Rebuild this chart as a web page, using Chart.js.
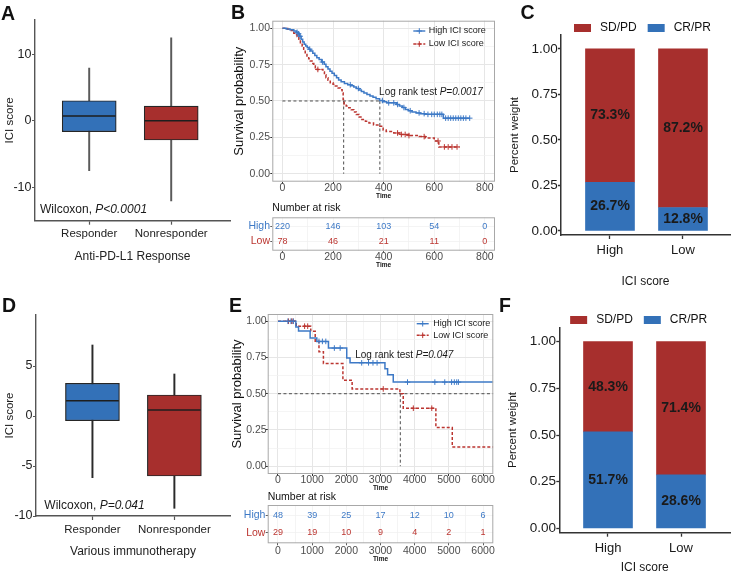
<!DOCTYPE html>
<html>
<head>
<meta charset="utf-8">
<title>ICI score and immunotherapy response</title>
<script src="https://cdn.jsdelivr.net/npm/chart.js@4.4.1/dist/chart.umd.min.js"></script>
<style>
  html, body { margin: 0; padding: 0; background: #fff; }
  #fig { position: relative; width: 733px; height: 574px; overflow: hidden; background: #fff; }
  #fig canvas { position: absolute; }
  .tag { position: absolute; font: bold 19.5px/1 'Liberation Sans', Arial, sans-serif; color: #111; }
</style>
</head>
<body>
<div id="fig">
  <canvas id="boxA" width="240" height="290" style="left:0;top:0"></canvas>
  <canvas id="survB" width="270" height="205" style="left:230px;top:0"></canvas>
  <canvas id="riskB" width="270" height="90" style="left:230px;top:195px"></canvas>
  <canvas id="barC" width="233" height="290" style="left:500px;top:0"></canvas>
  <canvas id="boxD" width="240" height="284" style="left:0;top:290px"></canvas>
  <canvas id="survE" width="270" height="205" style="left:230px;top:290px"></canvas>
  <canvas id="riskE" width="270" height="84" style="left:230px;top:490px"></canvas>
  <canvas id="barF" width="233" height="284" style="left:500px;top:290px"></canvas>
  <div class="tag" style="left:1px;top:3.5px">A</div>
  <div class="tag" style="left:231px;top:2.5px">B</div>
  <div class="tag" style="left:520.5px;top:2.5px">C</div>
  <div class="tag" style="left:2px;top:296px">D</div>
  <div class="tag" style="left:229px;top:296px">E</div>
  <div class="tag" style="left:499px;top:296px">F</div>
</div>
<script>
// ---------- data ----------
// A / D: ICI score by response (boxplot stats)
const respGroups = ['Responder', 'Nonresponder'];
const aLow = [-7.5, -12.05];
const aQ1 = [-1.65, -2.9];
const aMed = [0.7, 0.0];
const aQ3 = [3.0, 2.2];
const aHigh = [7.9, 12.45];
const aTicks = [-10, 0, 10];

const dLow = [-6.17, -9.23];
const dQ1 = [-0.47, -6.0];
const dMed = [1.53, 0.6];
const dQ3 = [3.27, 2.1];
const dHigh = [7.1, 4.2];
const dTicks = [-10, -5, 0, 5];

// B: Kaplan-Meier, anti-PD-L1 cohort
const bHighTime = [0, 15, 30, 45, 55, 62, 68, 74, 80, 86, 92, 98, 105, 112, 120, 128, 136, 145, 155, 165,
  172, 180, 188, 196, 205, 214, 222, 232, 245, 258, 270, 282, 292, 302, 312, 322, 334, 346, 358, 370,
  384, 396, 412, 450, 462, 474, 486, 498, 512, 528, 545, 562, 636, 740];
const bHighSurv = [1, 0.995, 0.99, 0.982, 0.972, 0.962, 0.945, 0.925, 0.905, 0.89, 0.878, 0.867, 0.856, 0.844, 0.828, 0.812, 0.798, 0.785, 0.768, 0.752,
  0.735, 0.72, 0.705, 0.69, 0.675, 0.66, 0.645, 0.632, 0.62, 0.612, 0.605, 0.596, 0.586, 0.575, 0.565, 0.555, 0.545, 0.535, 0.525, 0.515,
  0.503, 0.494, 0.487, 0.476, 0.465, 0.455, 0.442, 0.433, 0.425, 0.418, 0.413, 0.408, 0.382, 0.382];
const bLowTime = [0, 20, 35, 45, 52, 58, 65, 71, 78, 84, 90, 97, 104, 110, 117, 124, 130, 137, 160, 166,
  172, 180, 189, 200, 209, 220, 229, 236, 240, 244, 252, 262, 272, 282, 292, 303, 314, 328, 342, 360,
  385, 398, 410, 440, 470, 500, 540, 565, 600, 618, 700];
const bLowSurv = [1, 0.993, 0.985, 0.966, 0.955, 0.944, 0.925, 0.901, 0.878, 0.855, 0.832, 0.809, 0.79, 0.775, 0.757, 0.74, 0.728, 0.717, 0.7, 0.68,
  0.66, 0.642, 0.625, 0.615, 0.603, 0.59, 0.578, 0.555, 0.51, 0.476, 0.465, 0.453, 0.44, 0.425, 0.407, 0.39, 0.372, 0.36, 0.349, 0.335,
  0.326, 0.3, 0.29, 0.28, 0.27, 0.262, 0.255, 0.245, 0.225, 0.184, 0.184];
const bHighCens = [58, 64, 70, 108, 158, 268, 300, 395, 420, 440, 455, 480, 505, 540, 560, 575, 590, 600, 612, 622,
  630, 645, 655, 665, 675, 685, 695, 705, 715, 725, 740];
const bLowCens = [140, 455, 470, 485, 500, 560, 615, 640, 655, 670, 690];
const bMedian = [385, 242];               // high, low
const bTimeTicks = [0, 200, 400, 600, 800];
const bRiskHigh = [220, 146, 103, 54, 0];
const bRiskLow = [78, 46, 21, 11, 0];

// E: Kaplan-Meier, various immunotherapy
const eHighTime = [0, 524, 602, 942, 1137, 1477, 2012, 2109, 3130, 3208, 3373, 6300];
const eHighSurv = [1, 0.96, 0.932, 0.884, 0.861, 0.815, 0.746, 0.713, 0.672, 0.631, 0.58, 0.58];
const eLowTime = [0, 535, 960, 1090, 1200, 1330, 1900, 2170, 3568, 3665, 4620, 5100, 6300];
const eLowSurv = [1, 0.966, 0.931, 0.862, 0.79, 0.708, 0.593, 0.533, 0.5, 0.4, 0.267, 0.133, 0.133];
const eHighCens = [290, 380, 450, 1200, 1300, 1400, 1650, 1820, 2450, 2650, 2780, 2900, 3790, 4590, 4880, 5080, 5160, 5230, 5280];
const eLowCens = [310, 400, 440, 780, 870, 3080, 3960, 4500];
const eMedian = [null, 3580];             // high not reached
const eTimeTicks = [0, 1000, 2000, 3000, 4000, 5000, 6000];
const eRiskHigh = [48, 39, 25, 17, 12, 10, 6];
const eRiskLow = [29, 19, 10, 9, 4, 2, 1];

const survTicks = [0, 0.25, 0.5, 0.75, 1];
const riskGroups = ['High', 'Low'];

// C / F: response share by ICI score group (%)
const scoreGroups = ['High', 'Low'];
const cCRPR = [26.7, 12.8];
const cSDPD = [73.3, 87.2];
const fCRPR = [51.7, 28.6];
const fSDPD = [48.3, 71.4];
const weightTicks = [0, 0.25, 0.5, 0.75, 1];

// ---------- style ----------
const FONT = "'Liberation Sans', Arial, Helvetica, sans-serif";
Chart.defaults.font.family = FONT;
Chart.defaults.responsive = false;
Chart.defaults.animation = false;
Chart.defaults.plugins.legend.display = false;
Chart.defaults.plugins.tooltip.enabled = false;

const BOX_BLUE = '#3371b8';
const BOX_RED = '#a72f2d';
const KM_BLUE = '#3d79c6';
const KM_RED = '#bb3530';
const AXIS = '#555';
const KM_TICK = '#4d4d4d';
const GRID_MAJOR = '#e6e6e6';
const GRID_MINOR = '#f1f1f1';
const FRAME = '#a8a8a8';

const withMinor = arr => arr.flatMap((v, i) => i ? [(arr[i - 1] + v) / 2, v] : [v]);

function richText(ctx, x, y, parts, size, color, baseline) {
  ctx.save();
  ctx.fillStyle = color;
  ctx.textBaseline = baseline || 'alphabetic';
  ctx.textAlign = 'left';
  let cx = x;
  parts.forEach(([txt, italic]) => {
    ctx.font = (italic ? 'italic ' : '') + size + 'px ' + FONT;
    ctx.fillText(txt, cx, y);
    cx += ctx.measureText(txt).width;
  });
  ctx.restore();
}

// ---------- boxplots ----------
function boxplot(id, b, L) {
  const pos = respGroups.map((g, i) => i + 1);
  const extras = {
    id: 'boxExtras',
    afterDatasetsDraw(chart) {
      const {ctx, chartArea: a, scales: {y}} = chart;
      ctx.save();
      ctx.strokeStyle = '#1e1e1e';
      ctx.lineWidth = 1.6;
      chart.getDatasetMeta(1).data.forEach((el, i) => {
        const py = y.getPixelForValue(b.med[i]);
        ctx.beginPath();
        ctx.moveTo(el.x - el.width / 2 + 0.6, py);
        ctx.lineTo(el.x + el.width / 2 - 0.6, py);
        ctx.stroke();
      });
      ctx.restore();
      richText(ctx, a.left + L.noteDx, a.bottom - L.noteDy, [['Wilcoxon, ', false], [b.p, true]], 12, '#1a1a1a');
    }
  };
  new Chart(document.getElementById(id), {
    type: 'bar',
    data: {
      datasets: [
        { data: pos.map((p, i) => ({x: p, y: [b.low[i], b.high[i]]})), backgroundColor: L.whisker,
          barThickness: 1.3, grouped: false, order: 2 },
        { data: pos.map((p, i) => ({x: p, y: [b.q1[i], b.q3[i]]})), backgroundColor: [BOX_BLUE, BOX_RED],
          borderColor: '#262626', borderWidth: 1.2, borderSkipped: false, barThickness: 54, grouped: false, order: 1 }
      ]
    },
    options: {
      layout: { padding: { left: 0, top: L.top, right: L.right, bottom: L.bottom } },
      scales: {
        x: {
          type: 'linear', min: L.xMin, max: L.xMax, offset: false,
          afterBuildTicks: s => { s.ticks = pos.map(v => ({value: v})); },
          afterFit: s => { s.height = L.xh; },
          ticks: { callback: v => respGroups[v - 1], color: '#222', font: {size: 11.5}, padding: L.xPad, maxRotation: 0, autoSkip: false },
          grid: { drawOnChartArea: false, offset: false, tickLength: 4, tickColor: AXIS, tickWidth: 1.2 },
          border: { color: AXIS, width: 1.4 },
          title: { display: true, text: L.xTitle, color: '#222', font: {size: 12}, padding: {top: 0, bottom: L.xTitlePad} }
        },
        y: {
          min: L.yMin, max: L.yMax,
          afterBuildTicks: s => { s.ticks = L.ticks.map(v => ({value: v})); },
          afterFit: s => { s.width = L.yw; },
          ticks: { color: '#222', font: {size: 12.5}, padding: 0.5 },
          grid: { drawOnChartArea: false, tickLength: 3, tickColor: AXIS, tickWidth: 1.2 },
          border: { color: AXIS, width: 1.4 },
          title: { display: true, text: 'ICI score', color: '#222', font: {size: 11.5}, padding: {top: 3.1, bottom: 0} }
        }
      }
    },
    plugins: [extras]
  });
}

boxplot('boxA', {low: aLow, q1: aQ1, med: aMed, q3: aQ3, high: aHigh, p: 'P<0.0001'},
  {top: 20.06, right: 10, bottom: 19.3, yw: 35, xh: 50, xPad: 2.4, xTitlePad: 6.5,
   xMin: 0.339, xMax: 2.717, yMin: -15, yMax: 15.1, ticks: aTicks, whisker: '#5a5a5a',
   xTitle: 'Anti-PD-L1 Response', noteDx: 5, noteDy: 7.7});

boxplot('boxD', {low: dLow, q1: dQ1, med: dMed, q3: dQ3, high: dHigh, p: 'P=0.041'},
  {top: 25, right: 10, bottom: 8, yw: 36, xh: 50, xPad: 3.1, xTitlePad: 7.1,
   xMin: 0.311, xMax: 2.679, yMin: -10, yMax: 10.1, ticks: dTicks, whisker: '#2a2a2a',
   xTitle: 'Various immunotherapy', noteDx: 8.3, noteDy: 7});

// ---------- survival curves ----------
function survChart(id, s, L) {
  const stepAt = (T, S, t) => { let v = S[0]; T.forEach((tt, i) => { if (tt <= t) v = S[i]; }); return v; };
  const curve = (T, S) => T.map((t, i) => ({x: t, y: S[i]}));
  const marks = (C, T, S) => C.map(t => ({x: t, y: stepAt(T, S, t)}));
  const hEnd = s.median[0] == null ? L.xMax : Math.max(...s.median);
  const dashed = pts => ({ data: pts, borderColor: '#3a3a3a', borderWidth: 0.9, borderDash: [3, 2.5], pointRadius: 0, order: 3 });
  const datasets = [
    { label: 'High ICI score', data: curve(s.hiT, s.hiS), stepped: true, borderColor: KM_BLUE, borderWidth: 1.5, pointRadius: 0, order: 1 },
    { label: 'Low ICI score', data: curve(s.loT, s.loS), stepped: true, borderColor: KM_RED, borderWidth: 1.5, borderDash: [3, 2], pointRadius: 0, order: 1 },
    { data: marks(s.hiC, s.hiT, s.hiS), showLine: false, pointStyle: 'cross', pointRadius: 2.8, borderColor: KM_BLUE, borderWidth: 1, order: 0 },
    { data: marks(s.loC, s.loT, s.loS), showLine: false, pointStyle: 'cross', pointRadius: 2.8, borderColor: KM_RED, borderWidth: 1, order: 0 },
    dashed([{x: 0, y: 0.5}, {x: hEnd, y: 0.5}])
  ];
  s.median.filter(m => m != null).forEach(m => datasets.push(dashed([{x: m, y: 0.5}, {x: m, y: 0}])));

  const deco = {
    id: 'kmDeco',
    afterDatasetsDraw(chart) {
      const {ctx, chartArea: a, scales: {x, y}} = chart;
      ctx.save();
      ctx.strokeStyle = FRAME;
      ctx.lineWidth = 1;
      ctx.strokeRect(a.left + 0.5, a.top + 0.5, a.width - 1, a.height - 1);
      [[0, KM_BLUE, []], [1, KM_RED, [3, 2]]].forEach(([i, col, dash]) => {
        const ly = a.top + L.legTop + i * L.legGap;
        const lx = a.right - L.legRight;
        ctx.strokeStyle = col;
        ctx.lineWidth = 1.4;
        ctx.setLineDash(dash);
        ctx.beginPath(); ctx.moveTo(lx, ly); ctx.lineTo(lx + 12, ly); ctx.stroke();
        ctx.setLineDash([]);
        ctx.lineWidth = 1;
        ctx.beginPath();
        ctx.moveTo(lx + 6, ly - 2.8); ctx.lineTo(lx + 6, ly + 2.8);
        ctx.moveTo(lx + 3.2, ly); ctx.lineTo(lx + 8.8, ly);
        ctx.stroke();
        ctx.fillStyle = '#1a1a1a';
        ctx.font = '9px ' + FONT;
        ctx.textBaseline = 'middle';
        ctx.fillText(chart.data.datasets[i].label, lx + L.legText, ly);
      });
      ctx.restore();
      richText(ctx, x.getPixelForValue(L.noteAt[0]), y.getPixelForValue(L.noteAt[1]),
        [['Log rank test ', false], [s.p, true]], 10, '#1a1a1a', 'middle');
    }
  };

  new Chart(document.getElementById(id), {
    type: 'line',
    data: { datasets },
    options: {
      layout: { padding: { left: 0, top: L.top, right: L.right, bottom: 0 } },
      scales: {
        x: {
          type: 'linear', min: L.xMin, max: L.xMax,
          afterBuildTicks: sc => { sc.ticks = withMinor(s.xTicks).map(v => ({value: v})); },
          afterFit: sc => { sc.height = L.xh; },
          ticks: { callback: v => s.xTicks.includes(v) ? String(v) : '', color: KM_TICK, font: {size: 10.5, lineHeight: 1},
                   padding: L.xPad, maxRotation: 0, autoSkip: false },
          grid: { color: c => s.xTicks.includes(c.tick && c.tick.value) ? GRID_MAJOR : GRID_MINOR,
                  lineWidth: c => s.xTicks.includes(c.tick && c.tick.value) ? 1 : 0.7,
                  tickColor: c => s.xTicks.includes(c.tick && c.tick.value) ? '#333' : 'rgba(0,0,0,0)', tickLength: 2 },
          border: { display: false },
          title: { display: true, text: 'Time', color: '#111', font: {size: 6.5, weight: 'bold', lineHeight: 1}, padding: {top: 0, bottom: L.timePad} }
        },
        y: {
          min: L.yMin, max: L.yMax,
          afterBuildTicks: sc => { sc.ticks = withMinor(survTicks).map(v => ({value: v})); },
          afterFit: sc => { sc.width = L.yw; },
          ticks: { callback: v => survTicks.includes(v) ? v.toFixed(2) : '', color: KM_TICK, font: {size: 10.5, lineHeight: 1}, padding: L.yPad, autoSkip: false },
          grid: { color: c => survTicks.includes(c.tick && c.tick.value) ? GRID_MAJOR : GRID_MINOR,
                  lineWidth: c => survTicks.includes(c.tick && c.tick.value) ? 1 : 0.7,
                  tickColor: c => survTicks.includes(c.tick && c.tick.value) ? '#333' : 'rgba(0,0,0,0)', tickLength: 2 },
          border: { display: false },
          title: { display: true, text: 'Survival probability', color: '#111', font: {size: 13, lineHeight: 1}, padding: {top: L.yTitlePad, bottom: 0} }
        }
      }
    },
    plugins: [deco]
  });
}

survChart('survB', {hiT: bHighTime, hiS: bHighSurv, loT: bLowTime, loS: bLowSurv, hiC: bHighCens, loC: bLowCens,
  median: bMedian, xTicks: bTimeTicks, p: 'P=0.0017'},
  {top: 20.7, right: 5, yw: 42.3, xh: 23.3, xPad: -1, timePad: 5.75, yPad: 0.3, yTitlePad: 2.5,
   xMin: -40, xMax: 840, yMin: -0.055, yMax: 1.052,
   legTop: 10.3, legGap: 13, legRight: 81.7, legText: 15.4, noteAt: [382, 0.56]});

survChart('survE', {hiT: eHighTime, hiS: eHighSurv, loT: eLowTime, loS: eLowSurv, hiC: eHighCens, loC: eLowCens,
  median: eMedian, xTicks: eTimeTicks, p: 'P=0.047'},
  {top: 24, right: 6.7, yw: 37.7, xh: 21, xPad: -1.25, timePad: 3.45, yPad: -1, yTitlePad: 0.5,
   xMin: -300, xMax: 6300, yMin: -0.054, yMax: 1.05,
   legTop: 9.7, legGap: 11.6, legRight: 76.6, legText: 16.6, noteAt: [2260, 0.765]});

// ---------- number-at-risk tables ----------
function riskTable(id, times, high, low, L) {
  const rows = [high, low];
  const deco = {
    id: 'riskDeco',
    afterDatasetsDraw(chart) {
      const {ctx, chartArea: a} = chart;
      ctx.save();
      ctx.strokeStyle = FRAME;
      ctx.lineWidth = 1;
      ctx.strokeRect(a.left + 0.5, a.top + 0.5, a.width - 1, a.height - 1);
      ctx.fillStyle = '#111';
      ctx.font = '10.5px ' + FONT;
      ctx.textBaseline = 'middle';
      ctx.fillText('Number at risk', a.left, a.top - L.titleDy);
      ctx.font = '9px ' + FONT;
      ctx.textAlign = 'center';
      rows.forEach((vals, r) => {
        ctx.fillStyle = r === 0 ? KM_BLUE : KM_RED;
        chart.getDatasetMeta(r).data.forEach((el, i) => ctx.fillText(String(vals[i]), el.x, el.y));
      });
      ctx.restore();
    }
  };
  new Chart(document.getElementById(id), {
    type: 'line',
    data: { datasets: rows.map((vals, r) => ({ data: times.map(t => ({x: t, y: r + 1})), showLine: false, pointRadius: 0 })) },
    options: {
      layout: { padding: { left: 0, top: L.top, right: L.right, bottom: L.bottom } },
      scales: {
        x: {
          type: 'linear', min: L.xMin, max: L.xMax,
          afterBuildTicks: sc => { sc.ticks = withMinor(times).map(v => ({value: v})); },
          afterFit: sc => { sc.height = L.xh; },
          ticks: { callback: v => times.includes(v) ? String(v) : '', color: KM_TICK, font: {size: 10.5, lineHeight: 1},
                   padding: L.xPad, maxRotation: 0, autoSkip: false },
          grid: { color: GRID_MINOR, lineWidth: 0.8,
                  tickColor: c => times.includes(c.tick && c.tick.value) ? '#333' : 'rgba(0,0,0,0)', tickLength: 2 },
          border: { display: false },
          title: { display: true, text: 'Time', color: '#111', font: {size: 6.5, weight: 'bold', lineHeight: 1}, padding: {top: 0, bottom: L.timePad} }
        },
        y: {
          min: 0.4, max: 2.6, reverse: true,
          afterBuildTicks: sc => { sc.ticks = riskGroups.map((g, i) => ({value: i + 1})); },
          afterFit: sc => { sc.width = L.yw; },
          ticks: { callback: v => riskGroups[v - 1], color: c => c.index === 0 ? KM_BLUE : KM_RED,
                   font: {size: 10.5, lineHeight: 1}, padding: 0.3 },
          grid: { color: GRID_MINOR, lineWidth: 0.8, tickColor: '#333', tickLength: 2 },
          border: { display: false }
        }
      }
    },
    plugins: [deco]
  });
}

riskTable('riskB', bTimeTicks, bRiskHigh, bRiskLow,
  {top: 22.3, right: 5, bottom: 12.3, yw: 42.3, xh: 22, xPad: -0.65, timePad: 3.75, xMin: -40, xMax: 840, titleDy: 9.3});
riskTable('riskE', eTimeTicks, eRiskHigh, eRiskLow,
  {top: 15, right: 6.7, bottom: 10.7, yw: 37.7, xh: 20, xPad: 0.15, timePad: 1.05, xMin: -300, xMax: 6300, titleDy: 8.3});

// ---------- stacked response bars ----------
function weightChart(id, cr, sd, L) {
  const pos = scoreGroups.map((g, i) => i + 1);
  const deco = {
    id: 'barDeco',
    afterDatasetsDraw(chart) {
      const {ctx, chartArea: a} = chart;
      ctx.save();
      ctx.fillStyle = '#1a1a1a';
      ctx.font = 'bold 14px ' + FONT;
      ctx.textAlign = 'center';
      ctx.textBaseline = 'middle';
      [cr, sd].forEach((vals, d) => {
        chart.getDatasetMeta(d).data.forEach((el, i) => ctx.fillText(vals[i].toFixed(1) + '%', el.x, (el.y + el.base) / 2));
      });
      // legend: SD/PD first, then CR/PR
      ctx.font = '12px ' + FONT;
      ctx.textAlign = 'left';
      const items = [1, 0].map(d => chart.data.datasets[d]);
      const widths = items.map(ds => 17 + 9 + ctx.measureText(ds.label).width);
      const total = widths.reduce((p, w) => p + w, 0) + 11;
      let lx = (a.left + a.right) / 2 - total / 2 + L.legDx;
      const ly = a.top - L.legDy;
      items.forEach((ds, i) => {
        ctx.fillStyle = ds.backgroundColor;
        ctx.fillRect(lx, ly - 4, 17, 8);
        ctx.fillStyle = '#111';
        ctx.fillText(ds.label, lx + 26, ly);
        lx += widths[i] + 11;
      });
      ctx.restore();
    }
  };
  new Chart(document.getElementById(id), {
    type: 'bar',
    data: {
      datasets: [
        { label: 'CR/PR', data: pos.map((p, i) => ({x: p, y: cr[i] / 100})), backgroundColor: BOX_BLUE, barThickness: 49 },
        { label: 'SD/PD', data: pos.map((p, i) => ({x: p, y: sd[i] / 100})), backgroundColor: BOX_RED, barThickness: 49 }
      ]
    },
    options: {
      layout: { padding: { left: 0, top: L.top, right: 3, bottom: 0 } },
      scales: {
        x: {
          type: 'linear', stacked: true, min: L.xMin, max: L.xMax, offset: false,
          afterBuildTicks: s => { s.ticks = pos.map(v => ({value: v})); },
          afterFit: s => { s.height = L.xh; },
          ticks: { callback: v => scoreGroups[v - 1], color: '#1a1a1a', font: {size: 13}, padding: L.xPad, maxRotation: 0, autoSkip: false },
          grid: { drawOnChartArea: false, offset: false, tickLength: 4, tickColor: '#333', tickWidth: 1.3 },
          border: { color: '#333', width: 1.5 },
          title: { display: true, text: 'ICI score', color: '#1a1a1a', font: {size: 12, lineHeight: L.titleLH}, padding: {top: 0, bottom: L.xTitlePad} }
        },
        y: {
          stacked: true, min: L.yMin, max: L.yMax,
          afterBuildTicks: s => { s.ticks = weightTicks.map(v => ({value: v})); },
          afterFit: s => { s.width = L.yw; },
          ticks: { callback: v => v.toFixed(2), color: '#1a1a1a', font: {size: 13.5}, padding: 0.3 },
          grid: { drawOnChartArea: false, tickLength: 3, tickColor: '#333', tickWidth: 1.3 },
          border: { color: '#333', width: 1.5 },
          title: { display: true, text: 'Percent weight', color: '#1a1a1a', font: {size: 11.5}, padding: {top: L.yTitlePad, bottom: 0} }
        }
      }
    },
    plugins: [deco]
  });
}

weightChart('barC', cCRPR, cSDPD,
  {top: 35, yw: 61, xh: 55, xPad: 3.2, xTitlePad: 1.1, titleLH: 1.2, yTitlePad: 8.1,
   xMin: 0.329, xMax: 2.644, yMin: -0.023, yMax: 1.0767, legDx: -3, legDy: 7});
weightChart('barF', fCRPR, fSDPD,
  {top: 37.3, yw: 59.3, xh: 41.3, xPad: 3.5, xTitlePad: 0, titleLH: 1, yTitlePad: 6.1,
   xMin: 0.333, xMax: 2.671, yMin: -0.0236, yMax: 1.0772, legDx: -6, legDy: 7.3});
</script>
</body>
</html>
